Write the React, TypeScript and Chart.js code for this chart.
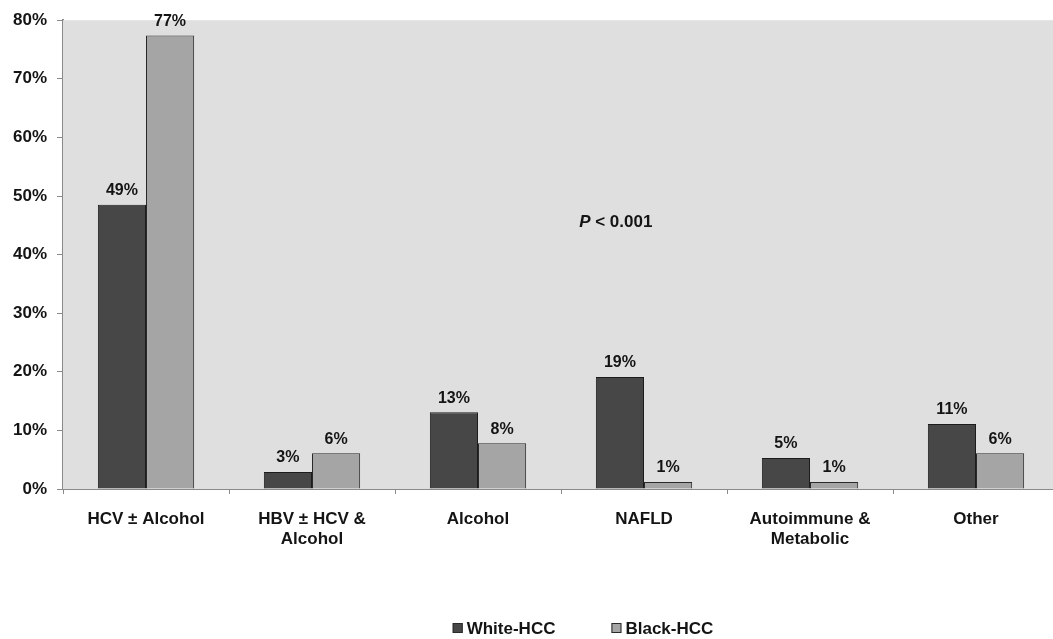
import React, { useEffect, useRef } from "react";
import { Chart, registerables } from "chart.js";

Chart.register(...registerables);

const categories: (string | string[])[] = [
  "HCV ± Alcohol",
  ["HBV ± HCV &", "Alcohol"],
  "Alcohol",
  "NAFLD",
  ["Autoimmune &", "Metabolic"],
  "Other",
];
const whiteHCC = [48.5, 2.9, 13.1, 19.1, 5.3, 11.1];
const blackHCC = [77.4, 6.1, 7.8, 1.2, 1.2, 6.1];
const seriesNames = ["White-HCC", "Black-HCC"];
const yTicks = [0, 10, 20, 30, 40, 50, 60, 70, 80];
const annotation = "P < 0.001";

const DARK = "#474747";
const LIGHT = "#a5a5a5";
const TEXT = "#141414";
const FONT = "'Liberation Sans', Arial, sans-serif";

export default function App() {
  const ref = useRef<HTMLCanvasElement>(null);
  useEffect(() => {
    if (!ref.current) return;
    const bgPlugin = {
      id: "plotBg",
      beforeDatasetsDraw(chart: any) {
        const { ctx, chartArea: a } = chart;
        ctx.save();
        ctx.fillStyle = "#dfdfdf";
        ctx.fillRect(a.left, a.top, a.right - a.left, a.bottom - a.top);
        ctx.restore();
      },
    };
    const labelPlugin = {
      id: "valLabels",
      afterDatasetsDraw(chart: any) {
        const { ctx } = chart;
        ctx.save();
        ctx.font = `bold 16px ${FONT}`;
        ctx.fillStyle = TEXT;
        ctx.textAlign = "center";
        ctx.textBaseline = "bottom";
        chart.data.datasets.forEach((ds: any, i: number) => {
          const meta = chart.getDatasetMeta(i);
          meta.data.forEach((el: any, j: number) => {
            ctx.fillText(Math.round(ds.data[j]) + "%", el.x, el.y - 6);
          });
        });
        // annotation
        const xs = chart.scales.x;
        const ys = chart.scales.y;
        const px = xs.getPixelForValue(2.83);
        const py = ys.getPixelForValue(45.5);
        const parts = annotation.split(" ");
        const first = parts[0];
        const rest = " " + parts.slice(1).join(" ");
        ctx.textBaseline = "middle";
        ctx.font = `italic bold 17px ${FONT}`;
        const w1 = ctx.measureText(first).width;
        ctx.font = `bold 17px ${FONT}`;
        const w2 = ctx.measureText(rest).width;
        const start = px - (w1 + w2) / 2;
        ctx.textAlign = "left";
        ctx.font = `italic bold 17px ${FONT}`;
        ctx.fillText(first, start, py);
        ctx.font = `bold 17px ${FONT}`;
        ctx.fillText(rest, start + w1, py);

        // legend
        const colors = [DARK, LIGHT];
        ctx.font = `bold 17px ${FONT}`;
        const box = 10;
        const gap = 4;
        const spacing = 56;
        const widths = seriesNames.map((n) => box + gap + ctx.measureText(n).width);
        const total = widths.reduce((a, b) => a + b, 0) + spacing;
        let x = 583 - total / 2;
        const ly = 628;
        seriesNames.forEach((n, i) => {
          ctx.fillStyle = colors[i];
          ctx.fillRect(x, ly - box / 2, box, box);
          ctx.strokeStyle = "#2a2a2a";
          ctx.lineWidth = 1;
          ctx.strokeRect(x + 0.5, ly - box / 2 + 0.5, box - 1, box - 1);
          ctx.fillStyle = TEXT;
          ctx.fillText(n, x + box + gap, ly + 1);
          x += widths[i] + spacing;
        });
        ctx.restore();
      },
    };
    const chart = new Chart(ref.current, {
      type: "bar",
      data: {
        labels: categories,
        datasets: [
          {
            label: seriesNames[0],
            data: whiteHCC,
            backgroundColor: DARK,
            borderColor: "#1c1c1c",
            borderWidth: 1,
            categoryPercentage: 0.58,
            barPercentage: 1.0,
          },
          {
            label: seriesNames[1],
            data: blackHCC,
            backgroundColor: LIGHT,
            borderColor: "#2a2a2a",
            borderWidth: 1,
            categoryPercentage: 0.58,
            barPercentage: 1.0,
          },
        ],
      },
      options: {
        animation: false,
        responsive: true,
        maintainAspectRatio: false,
        layout: { padding: { top: 20, right: 1, bottom: 0, left: 0 } },
        plugins: { legend: { display: false }, tooltip: { enabled: false } },
        scales: {
          x: {
            grid: {
              offset: true,
              drawOnChartArea: false,
              tickLength: 5,
              color: "#8a8a8a",
            },
            border: { color: "#8a8a8a", width: 2 },
            ticks: {
              color: TEXT,
              font: { family: FONT, size: 17, weight: "bold", lineHeight: 1.15 },
              padding: 16,
              maxRotation: 0,
              autoSkip: false,
            },
            afterFit(scale: any) {
              scale.height = 150;
            },
          },
          y: {
            min: 0,
            max: 80,
            afterBuildTicks(scale: any) {
              scale.ticks = yTicks.map((v) => ({ value: v }));
            },
            grid: {
              drawOnChartArea: false,
              tickLength: 6,
              color: "#8a8a8a",
            },
            border: { color: "#8a8a8a", width: 2 },
            ticks: {
              color: TEXT,
              font: { family: FONT, size: 17, weight: "bold" },
              padding: 10,
              callback: (v: any) => v + "%",
            },
            afterFit(scale: any) {
              scale.width = 63;
            },
          },
        },
      },
      plugins: [bgPlugin, labelPlugin],
    });
    return () => chart.destroy();
  }, []);
  return (
    <div
      style={{
        position: "fixed",
        left: 0,
        top: 0,
        width: 1060,
        height: 639,
        overflow: "hidden",
        background: "#fff",
      }}
    >
      <canvas ref={ref} />
    </div>
  );
}
